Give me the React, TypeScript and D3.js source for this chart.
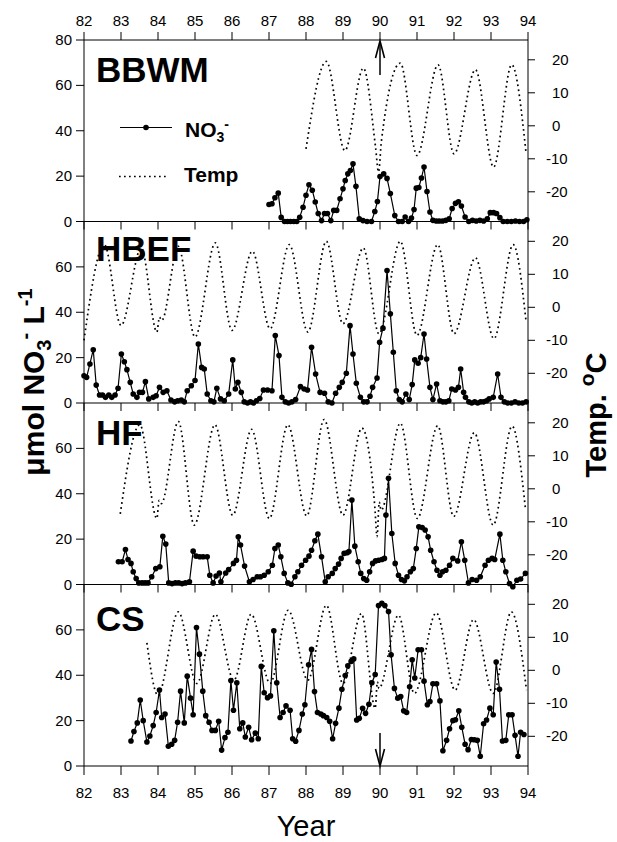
import React from 'react';
import * as d3 from 'd3';

type P = [number, number];

const yearTicks = [82, 83, 84, 85, 86, 87, 88, 89, 90, 91, 92, 93, 94];
const no3TicksTop = [0, 20, 40, 60, 80];
const no3Ticks = [0, 20, 40, 60];
const tempTicks = [-20, -10, 0, 10, 20];
const siteNames = ['BBWM', 'HBEF', 'HF', 'CS'];

const bbwmNO3: P[] = [
  [87.0, 7.5], [87.08, 7.8], [87.16, 10.5], [87.25, 12.5], [87.33, 1.8], [87.42, 0], [87.5, 0], [87.58, 0], [87.67, 0], [87.75, 0],
  [87.83, 1.9], [87.92, 6.3], [88.0, 11.6], [88.08, 16.2], [88.17, 13.8], [88.25, 8.6], [88.33, 3.5], [88.42, 0.4], [88.5, 3.5], [88.58, 3.5],
  [88.67, 0.4], [88.75, 4.9], [88.83, 4.9], [88.92, 10], [89.0, 14.4], [89.06, 18.1], [89.13, 21], [89.2, 22.5], [89.27, 25.4], [89.35, 15.5],
  [89.44, 1.2], [89.54, 0.4], [89.65, 0], [89.77, 0], [89.86, 4.4], [89.93, 8.8], [90.0, 19.8], [90.1, 21], [90.19, 19], [90.28, 12.3],
  [90.4, 2.6], [90.5, 0], [90.6, 0], [90.68, 2], [90.77, 0], [90.85, 1.5], [90.92, 5.3], [90.98, 14.7], [91.05, 15], [91.12, 19.2],
  [91.19, 24], [91.27, 13.2], [91.35, 4.2], [91.43, 0.5], [91.52, 0.2], [91.6, 0.2], [91.69, 0.2], [91.78, 0.5], [91.87, 1.2], [91.95, 5.7],
  [92.04, 8], [92.12, 8.7], [92.2, 6.8], [92.3, 2], [92.4, 0], [92.5, 0.5], [92.6, 0.2], [92.7, 0.5], [92.8, 0.2], [92.9, 1.2],
  [92.98, 3.9], [93.07, 3.9], [93.15, 3.5], [93.24, 1.7], [93.33, 0], [93.44, 0], [93.55, 0], [93.66, 0.2], [93.77, 0], [93.88, 0], [93.97, 0.8],
];

const bbwmTemp: P[] = [
  [88.0, -7], [88.55, 19.5], [89.05, -7.5], [89.55, 17.5], [89.88, -6.5], [89.96, -14], [90.04, -4.5], [90.55, 19],
  [91.0, -9], [91.57, 18.5], [92.0, -8.5], [92.58, 17], [93.07, -12.5], [93.56, 18.5], [93.95, -8.5],
];

const hbefNO3: P[] = [
  [82.0, 12], [82.07, 11.3], [82.16, 17.2], [82.25, 23.5], [82.33, 7.9], [82.42, 3.5], [82.5, 3.5], [82.58, 2.5], [82.67, 3.5], [82.75, 2.5],
  [82.84, 3.5], [82.92, 6.5], [83.01, 21.6], [83.09, 18.2], [83.16, 14.7], [83.25, 9.1], [83.33, 4], [83.43, 2.5], [83.5, 4.7], [83.58, 4.7],
  [83.66, 9.4], [83.75, 1.8], [83.87, 2.5], [83.95, 3.2], [84.04, 6.9], [84.14, 4.7], [84.24, 5.4], [84.35, 1.3], [84.45, 0.5], [84.53, 1],
  [84.63, 1.3], [84.71, 0.5], [84.79, 5.4], [84.9, 7.6], [85.0, 9.9], [85.09, 26], [85.18, 15.7], [85.25, 15], [85.33, 4], [85.43, 1],
  [85.51, 0.5], [85.59, 6.5], [85.69, 1.8], [85.79, 1], [85.91, 4], [86.02, 19], [86.09, 6.2], [86.16, 9.1], [86.25, 4.7], [86.33, 0.5],
  [86.42, 0], [86.5, 0.5], [86.58, 0], [86.66, 1], [86.75, 2], [86.85, 5.7], [86.96, 5.7], [87.08, 5.4], [87.17, 29.7], [87.27, 20.9],
  [87.35, 2.5], [87.44, 0.5], [87.53, 0], [87.62, 0.5], [87.72, 1.5], [87.85, 7.2], [87.95, 6.2], [88.04, 5.7], [88.15, 24.6], [88.26, 12.8],
  [88.38, 4.7], [88.5, 4.3], [88.6, 0.5], [88.7, 0], [88.8, 4.3], [88.9, 6.9], [88.98, 9.1], [89.09, 13.1], [89.19, 34.1], [89.27, 21.6],
  [89.36, 8.7], [89.47, 2.5], [89.56, 0.5], [89.65, 0.5], [89.73, 3], [89.8, 6.9], [89.92, 11], [89.99, 26.8], [90.08, 33], [90.19, 58.4],
  [90.28, 39.3], [90.36, 22.4], [90.44, 5.4], [90.52, 1.5], [90.6, 0.5], [90.7, 4], [90.79, 1.5], [90.87, 8.1], [90.94, 19], [91.03, 17.5],
  [91.1, 20], [91.19, 30.4], [91.26, 19.4], [91.35, 6.9], [91.43, 1.5], [91.53, 8.4], [91.62, 1], [91.7, 0.5], [91.78, 0.5], [91.86, 1],
  [91.94, 6.2], [92.04, 5.7], [92.12, 6.9], [92.18, 15], [92.26, 4.7], [92.31, 2.5], [92.4, 0.5], [92.48, 0], [92.56, 0.5], [92.64, 0],
  [92.72, 0.5], [92.8, 0.5], [92.88, 1], [92.95, 1.8], [93.06, 2.5], [93.18, 12.8], [93.27, 2.5], [93.36, 0.5], [93.45, 0], [93.55, 0],
  [93.65, 0.5], [93.75, 0], [93.85, 0], [93.95, 0.5],
];

const hbefTemp: P[] = [
  [82.0, -10], [82.55, 19], [83.0, -5.5], [83.55, 18], [83.97, -7.5], [84.04, -3], [84.1, -4], [84.55, 18.5], [85.0, -9],
  [85.55, 19.5], [86.0, -7], [86.55, 17], [87.03, -6.5], [87.55, 19], [88.05, -7.5], [88.55, 20], [89.0, -5], [89.55, 18],
  [89.97, -8], [90.55, 20], [91.0, -8.5], [91.56, 19], [92.0, -8], [92.58, 15], [93.08, -9.5], [93.6, 19], [93.95, -4.5],
];

const hfNO3: P[] = [
  [82.93, 10], [83.03, 10], [83.12, 15.4], [83.19, 11], [83.27, 9.3], [83.33, 5.6], [83.41, 2.6], [83.48, 0.7], [83.57, 0.7], [83.65, 0.7],
  [83.73, 0.7], [83.83, 3.4], [83.94, 7], [84.05, 7.8], [84.13, 21.3], [84.21, 17.8], [84.29, 0.7], [84.38, 0.4], [84.47, 0.7], [84.56, 0.7],
  [84.65, 0.4], [84.74, 0.7], [84.85, 1.2], [84.95, 14.7], [85.03, 12.5], [85.13, 12.2], [85.22, 12.2], [85.33, 12.2], [85.4, 4.1], [85.49, 0.7],
  [85.57, 3.7], [85.66, 5.1], [85.7, 1.2], [85.83, 5.1], [85.91, 6.6], [86.04, 9.3], [86.12, 10.7], [86.17, 21], [86.23, 17.4], [86.34, 8.1],
  [86.47, 1.2], [86.57, 2.2], [86.68, 3.4], [86.77, 3.4], [86.87, 4.1], [86.98, 5.6], [87.09, 8.5], [87.16, 15.9], [87.25, 17.4], [87.32, 12.2],
  [87.41, 4.9], [87.51, 0.7], [87.6, 0.1], [87.7, 3.4], [87.78, 5.6], [87.88, 8.5], [87.99, 10.7], [88.08, 12.5], [88.15, 15.1], [88.24, 19.3],
  [88.32, 22.2], [88.42, 12.2], [88.52, 1.2], [88.6, 3.4], [88.71, 4.9], [88.79, 7], [88.88, 9], [88.95, 11.5], [89.03, 13.7], [89.11, 14],
  [89.16, 14.5], [89.24, 37.2], [89.32, 16.9], [89.41, 10], [89.48, 4.9], [89.56, 2.6], [89.64, 1.9], [89.72, 5.6], [89.8, 9.3], [89.88, 10.4],
  [89.96, 10.7], [90.05, 11], [90.12, 11.5], [90.16, 30.6], [90.23, 46.8], [90.32, 22.5], [90.41, 9.3], [90.5, 4.1], [90.58, 2.2], [90.66, 1.6],
  [90.73, 3.4], [90.82, 5.6], [90.9, 7], [90.98, 15.9], [91.05, 25.4], [91.14, 25.1], [91.22, 24], [91.3, 21], [91.37, 15.1], [91.46, 10],
  [91.54, 6.3], [91.62, 4.1], [91.69, 5.6], [91.78, 6.3], [91.88, 8.5], [91.97, 11.5], [92.1, 10.4], [92.2, 18.8], [92.29, 10.7], [92.39, 0.7],
  [92.49, 2.2], [92.61, 1.9], [92.71, 3.4], [92.84, 8.5], [92.93, 10.7], [93.03, 11.5], [93.1, 11], [93.24, 22.2], [93.32, 10.7], [93.4, 5.6],
  [93.5, 0.4], [93.59, -1], [93.7, 1.9], [93.8, 2.4], [93.93, 4.9],
];

const hfTemp: P[] = [
  [82.98, -7.6], [83.51, 19.4], [83.97, -9], [84.03, -3.5], [84.09, -4.5], [84.55, 20.4], [84.98, -11], [85.54, 19.4], [86.02, -8],
  [86.53, 18], [87.01, -9], [87.51, 19.4], [88.02, -8.2], [88.49, 21], [89.0, -8], [89.51, 18.4], [89.86, -5.5], [89.92, -14.5],
  [89.98, -4], [90.03, -6.5], [90.55, 19.9], [91.01, -9], [91.56, 19.1], [91.99, -8.4], [92.55, 17], [93.06, -11], [93.57, 19], [93.93, -6],
];

const csNO3: P[] = [
  [83.27, 11], [83.35, 15.2], [83.44, 19], [83.52, 29.1], [83.6, 20], [83.7, 10.6], [83.78, 13.2], [83.87, 17.8], [83.95, 23.6], [84.04, 33.5],
  [84.1, 21.4], [84.19, 22.9], [84.28, 8.7], [84.37, 9.6], [84.45, 11.3], [84.53, 19.3], [84.61, 33], [84.71, 19], [84.79, 39.6], [84.88, 29.9],
  [84.95, 22.6], [85.04, 61], [85.12, 49.3], [85.21, 33], [85.29, 22.2], [85.38, 19.3], [85.46, 15.7], [85.55, 15.7], [85.64, 19.7], [85.72, 7],
  [85.81, 12.5], [85.89, 14.9], [85.97, 37.7], [86.04, 24.6], [86.13, 36.7], [86.21, 16.4], [86.29, 19], [86.36, 12.8], [86.45, 17.1], [86.53, 11.6],
  [86.63, 14.5], [86.71, 12], [86.79, 43.9], [86.87, 32.3], [86.96, 30.1], [87.04, 30.9], [87.13, 59.6], [87.21, 36.7], [87.3, 21.4], [87.38, 23.6],
  [87.46, 26.5], [87.57, 24.6], [87.64, 12], [87.72, 10.9], [87.81, 15.7], [87.9, 22.9], [87.97, 27], [88.07, 44.6], [88.15, 51.4], [88.23, 32.8],
  [88.31, 23.6], [88.4, 22.9], [88.47, 22.2], [88.56, 21.4], [88.64, 19.7], [88.72, 12], [88.8, 18.8], [88.89, 25.5], [88.97, 33.8], [89.06, 39.9],
  [89.13, 44.2], [89.22, 46.1], [89.29, 47.2], [89.37, 20.3], [89.44, 21], [89.53, 25.4], [89.61, 23.2], [89.7, 27.2], [89.78, 36.7], [89.87, 40.3],
  [89.96, 70.7], [90.05, 71.7], [90.13, 70.7], [90.23, 68.1], [90.3, 49], [90.39, 34.2], [90.48, 29.9], [90.56, 30.6], [90.64, 24.3], [90.72, 23.6],
  [90.8, 34.9], [90.87, 46.8], [90.94, 38.8], [91.03, 51.2], [91.12, 51.2], [91.19, 37.4], [91.28, 27], [91.35, 28.4], [91.43, 36.2], [91.53, 36.2],
  [91.62, 28.7], [91.7, 6.7], [91.8, 11.3], [91.88, 16.4], [91.97, 20], [92.04, 20.4], [92.13, 24.3], [92.21, 17.1], [92.3, 9.6], [92.38, 7.2],
  [92.47, 11.7], [92.55, 11.6], [92.63, 11.3], [92.71, 4.3], [92.8, 18.6], [92.88, 20.3], [92.97, 25.5], [93.06, 22.6], [93.14, 45.8], [93.23, 33.8],
  [93.31, 11], [93.4, 11.3], [93.48, 22.6], [93.57, 22.6], [93.65, 13.5], [93.73, 4.3], [93.8, 14.9], [93.89, 13.9],
];

const csTemp: P[] = [
  [83.7, 8.3], [84.0, -7.6], [84.55, 17.7], [85.05, -4], [85.55, 17], [86.05, -3], [86.52, 17], [87.03, -4], [87.52, 18.2],
  [88.05, -3], [88.55, 19.7], [89.0, -4], [89.5, 17.2], [89.87, -11.5], [89.93, -3.5], [89.97, -5.5], [90.5, 16.7], [90.93, -7],
  [91.52, 17.4], [92.03, -6], [92.53, 15.4], [93.06, -7], [93.55, 17.7], [93.96, -6],
];

const FONT = '"Liberation Sans", Arial, Helvetica, sans-serif';

export default function App() {
  const left = 84;
  const right = 528;
  const top = 40;
  const panelH = 181.5;
  const x = d3.scaleLinear().domain([82, 94]).range([left, right]);

  const no3Series = [bbwmNO3, hbefNO3, hfNO3, csNO3];
  const tempSeries = [bbwmTemp, hbefTemp, hfTemp, csTemp];
  const labelOffsets = [42, 39, 42, 46];

  const panels = siteNames.map((name, i) => {
    const y0 = top + i * panelH;
    const y1 = y0 + panelH;
    const yN = d3.scaleLinear().domain([0, 80]).range([y1, y0]);
    const yT = d3.scaleLinear().domain([-29, 26]).range([y1, y0]);
    return { name, i, y0, y1, yN, yT, no3: no3Series[i], temp: tempSeries[i] };
  });

  const bottom = top + 4 * panelH;
  const x90 = x(90);

  return (
    <svg width={617} height={842} style={{ position: 'absolute', left: 0, top: 0, background: '#fff' }} fontFamily={FONT}>
      <rect x={0} y={0} width={617} height={842} fill="#fff" />
      <line x1={left} x2={right} y1={top} y2={top} stroke="#000" strokeWidth={1} />
      <line x1={left} x2={left} y1={top} y2={bottom} stroke="#000" strokeWidth={1} />
      <line x1={right} x2={right} y1={top} y2={bottom} stroke="#000" strokeWidth={1} />
      {yearTicks.map((t) => (
        <g key={'tt' + t}>
          <line x1={x(t)} x2={x(t)} y1={top} y2={top - 8} stroke="#000" />
          <text x={x(t)} y={26} fontSize={15} textAnchor="middle">{t}</text>
          <line x1={x(t)} x2={x(t)} y1={bottom} y2={bottom + 9} stroke="#000" />
          <text x={x(t)} y={798} fontSize={15} textAnchor="middle">{t}</text>
        </g>
      ))}
      {panels.map((p) => {
        const lineN = d3.line<P>().x((d) => x(d[0])).y((d) => p.yN(d[1]));
        const lineT = d3.line<P>().x((d) => x(d[0])).y((d) => p.yT(d[1])).curve(d3.curveMonotoneX);
        const ticksN = p.i === 0 ? no3TicksTop : no3Ticks;
        return (
          <g key={p.name}>
            <line x1={left} x2={right} y1={p.y1} y2={p.y1} stroke="#000" strokeWidth={1} />
            {p.i < 3 &&
              yearTicks.map((t) => (
                <line key={'it' + t} x1={x(t)} x2={x(t)} y1={p.y1} y2={p.y1 + 8} stroke="#000" />
              ))}
            {ticksN.map((v) => (
              <g key={'n' + v}>
                <line x1={left} x2={left - 8} y1={p.yN(v)} y2={p.yN(v)} stroke="#000" />
                <text x={72} y={p.yN(v) + 5} fontSize={15} textAnchor="end">{v}</text>
              </g>
            ))}
            {tempTicks.map((v) => (
              <g key={'t' + v}>
                <line x1={right} x2={right + 7} y1={p.yT(v)} y2={p.yT(v)} stroke="#000" />
                <text x={v < 0 ? 546 : 552} y={p.yT(v) + 5} fontSize={15} textAnchor="start">{v < 0 ? '-' + Math.abs(v) : v}</text>
              </g>
            ))}
            <path d={lineT(p.temp) || ''} fill="none" stroke="#000" strokeWidth={1.7} strokeDasharray="1.7 3.3" />
            <path d={lineN(p.no3) || ''} fill="none" stroke="#000" strokeWidth={1.2} />
            {p.no3.map((d, k) => (
              <circle key={k} cx={x(d[0])} cy={p.yN(d[1])} r={2.8} fill="#000" />
            ))}
            <text x={96} y={p.y0 + labelOffsets[p.i]} fontSize={35} fontWeight="bold">{p.name}</text>
          </g>
        );
      })}
      <line x1={120} x2={172} y1={127.5} y2={127.5} stroke="#000" strokeWidth={1.2} />
      <circle cx={146} cy={127.5} r={2.8} fill="#000" />
      <text x={185} y={137} fontSize={21} fontWeight="bold">
        NO<tspan fontSize={14} dy={5}>3</tspan>
        <tspan fontSize={14} dy={-13}>-</tspan>
      </text>
      <line x1={119} x2={168} y1={176.5} y2={176.5} stroke="#000" strokeWidth={1.7} strokeDasharray="1.7 3.3" />
      <text x={184} y={182} fontSize={21} fontWeight="bold">Temp</text>
      <line x1={x90} x2={x90} y1={75} y2={42} stroke="#000" strokeWidth={1.5} />
      <path d={`M${x90 - 4.5},58 L${x90},41 L${x90 + 4.5},58`} fill="none" stroke="#000" strokeWidth={1.6} />
      <line x1={x90} x2={x90} y1={733} y2={765} stroke="#000" strokeWidth={1.5} />
      <path d={`M${x90 - 4.5},749 L${x90},766 L${x90 + 4.5},749`} fill="none" stroke="#000" strokeWidth={1.6} />
      <text transform="translate(44,382) rotate(-90)" fontSize={30} fontWeight="bold" textAnchor="middle">
        μmol NO<tspan fontSize={20} dy={7}>3</tspan>
        <tspan fontSize={20} dy={-19}>-</tspan>
        <tspan fontSize={30} dy={12}> L</tspan>
        <tspan fontSize={20} dy={-12}>-1</tspan>
      </text>
      <text transform="translate(606,415) rotate(-90)" fontSize={29} fontWeight="bold" textAnchor="middle">
        Temp. <tspan fontSize={21} dy={-12}>o</tspan>
        <tspan fontSize={29} dy={12}>C</tspan>
      </text>
      <text x={306} y={836} fontSize={29} textAnchor="middle">Year</text>
    </svg>
  );
}
